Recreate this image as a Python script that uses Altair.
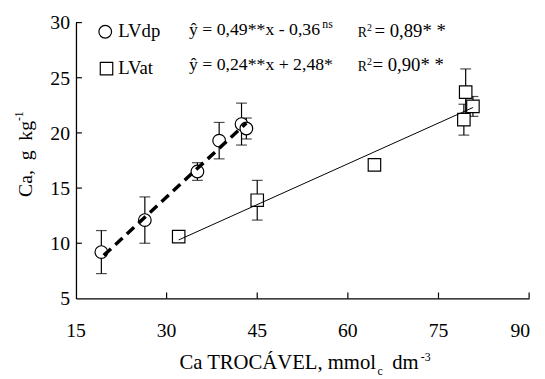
import altair as alt
import pandas as pd

# ---- data ----
lvdp_x = [19.2, 26.4, 35.1, 38.7, 42.4, 43.2]
lvdp_y = [9.2, 12.1, 16.5, 19.3, 20.8, 20.4]
lvdp_err = [1.95, 2.1, 0.8, 1.65, 1.9, 0.95]

lvat_x = [32.0, 45.0, 64.4, 79.5, 80.7, 79.2]
lvat_y = [10.6, 13.9, 17.1, 23.7, 22.4, 21.2]
lvat_err = [0.0, 1.8, 0.0, 2.1, 0.9, 1.4]

dp_line_x = [19.6, 43.2]
dp_line_y = [8.9, 20.9]
at_line_x = [32.0, 80.7]
at_line_y = [10.3, 22.3]

x_ticks = [15, 30, 45, 60, 75, 90]
y_ticks = [5, 10, 15, 20, 25, 30]

series_names = ["LVdp", "LVat"]
eq_texts = ["ŷ = 0,49**x - 0,36", "ŷ = 0,24**x + 2,48*"]
eq_sup = "ns"
r2_label = "R"
r2_sup = "2"
r2_values = ["= 0,89* *", "= 0,90* *"]
x_title_parts = ["Ca TROCÁVEL, mmol", "c", "dm", "-3"]
y_title_parts = ["Ca,\u00a0\u00a0g\u00a0\u00a0kg", "-1"]

FONT = "Liberation Serif"
W, H = 460, 280

xs = alt.Scale(domain=[15, 90], nice=False, zero=False)
ys = alt.Scale(domain=[5, 30], nice=False, zero=False)

AX = alt.Axis(values=x_ticks, ticks=False, tickSize=0, labels=False, title=None, grid=False,
              domainColor="black", domainWidth=1.3)
AY = alt.Axis(values=y_ticks, ticks=False, tickSize=0, labels=False, title=None, grid=False,
              domainColor="black", domainWidth=1.3)


def X(f):
    return alt.X(f, scale=xs, axis=AX, title=None)


def Y(f):
    return alt.Y(f, scale=ys, axis=AY, title=None)


dp = pd.DataFrame({"x": lvdp_x, "y": lvdp_y,
                   "lo": [a - b for a, b in zip(lvdp_y, lvdp_err)],
                   "hi": [a + b for a, b in zip(lvdp_y, lvdp_err)],
                   "e": lvdp_err})
at = pd.DataFrame({"x": lvat_x, "y": lvat_y,
                   "lo": [a - b for a, b in zip(lvat_y, lvat_err)],
                   "hi": [a + b for a, b in zip(lvat_y, lvat_err)],
                   "e": lvat_err})
err_all = pd.concat([dp, at])
err_all = err_all[err_all["e"] > 0]

# inward ticks
xtick = alt.Chart(pd.DataFrame({"v": x_ticks[1:]})).mark_rule(color="black", strokeWidth=1.2).encode(
    x=X("v:Q"), y=alt.value(H), y2=alt.value(H - 6))
ytick = alt.Chart(pd.DataFrame({"v": y_ticks[1:]})).mark_rule(color="black", strokeWidth=1.2).encode(
    y=Y("v:Q"), x=alt.value(0), x2=alt.value(6))

# tick labels (serif)
xlab = alt.Chart(pd.DataFrame({"v": x_ticks[:-1]})).mark_text(
    font=FONT, fontSize=20, align="center", baseline="alphabetic", color="black").encode(
    x=X("v:Q"), y=alt.value(H + 39), text="v:Q")
xlab_end = alt.Chart(pd.DataFrame({"v": x_ticks[-1:]})).mark_text(
    font=FONT, fontSize=20, align="right", baseline="alphabetic", color="black", dx=1).encode(
    x=X("v:Q"), y=alt.value(H + 39), text="v:Q")
ylab = alt.Chart(pd.DataFrame({"v": y_ticks})).mark_text(
    font=FONT, fontSize=20, align="right", baseline="middle", color="black", dx=-6, dy=1).encode(
    y=Y("v:Q"), x=alt.value(0), text="v:Q")

errs = alt.Chart(err_all).mark_errorbar(ticks=True, size=11, thickness=1.2, color="black").encode(
    x=X("x:Q"), y=Y("lo:Q"), y2="hi:Q")

circles = alt.Chart(dp).mark_point(shape="circle", size=165, filled=True, fill="white",
                                   stroke="black", strokeWidth=1.2, opacity=1).encode(x=X("x:Q"), y=Y("y:Q"))
squares = alt.Chart(at).mark_point(shape="square", size=160, filled=True, fill="white",
                                   stroke="black", strokeWidth=1.2, opacity=1).encode(x=X("x:Q"), y=Y("y:Q"))

dp_line = alt.Chart(pd.DataFrame({"x": dp_line_x, "y": dp_line_y})).mark_line(
    color="black", strokeWidth=3.5, strokeDash=[10, 6]).encode(x=X("x:Q"), y=Y("y:Q"))
at_line = alt.Chart(pd.DataFrame({"x": at_line_x, "y": at_line_y})).mark_line(
    color="black", strokeWidth=1).encode(x=X("x:Q"), y=Y("y:Q"))


def txt(s, x, y, size=19, angle=None, align="left", baseline="alphabetic"):
    kw = dict(font=FONT, fontSize=size, align=align, baseline=baseline, color="black")
    if angle is not None:
        kw["angle"] = angle
    return alt.Chart(pd.DataFrame({"t": [s]})).mark_text(**kw).encode(
        x=alt.value(x), y=alt.value(y), text="t:N")


leg_c = alt.Chart(pd.DataFrame({"a": [0]})).mark_point(shape="circle", size=165, filled=True, fill="white",
                                                    stroke="black", strokeWidth=1.2, opacity=1).encode(
    x=alt.value(29.7), y=alt.value(9.3))
leg_s = alt.Chart(pd.DataFrame({"a": [0]})).mark_point(shape="square", size=160, filled=True, fill="white",
                                                    stroke="black", strokeWidth=1.2, opacity=1).encode(
    x=alt.value(31), y=alt.value(46.7))

texts = [
    txt(series_names[0], 43, 15),
    txt(series_names[1], 43, 52),
    txt(eq_texts[0], 114.7, 13, size=18),
    txt(eq_sup, 250, 5, size=12),
    txt(eq_texts[1], 114.7, 48, size=18),
    txt(r2_label, 286, 15, size=14),
    txt(r2_sup, 295.5, 9, size=10),
    txt(r2_values[0], 303, 15, size=19),
    txt(r2_label, 286, 49, size=14),
    txt(r2_sup, 295.5, 43, size=10),
    txt(r2_values[1], 301, 49, size=19),
    # x title
    txt(x_title_parts[0], 105, 352, size=21),
    txt(x_title_parts[1], 306, 358, size=12),
    txt(x_title_parts[2], 321, 352, size=21),
    txt(x_title_parts[3], 350, 344, size=12),
    # y title
    txt(y_title_parts[0], -45, 177, size=20, angle=270),
    txt(y_title_parts[1], -54, 100, size=12, angle=270),
]

chart = alt.layer(xtick, ytick, xlab, xlab_end, ylab, errs, circles, squares, dp_line, at_line,
                  leg_c, leg_s, *texts).properties(
    width=W, height=H,
    autosize=alt.AutoSizeParams(type="none"),
    padding={"left": 69, "top": 12, "right": 8, "bottom": 79},
).configure(font=FONT).configure_view(stroke=None)

chart.save("out.html", embed_options={"renderer": "svg", "actions": False})
